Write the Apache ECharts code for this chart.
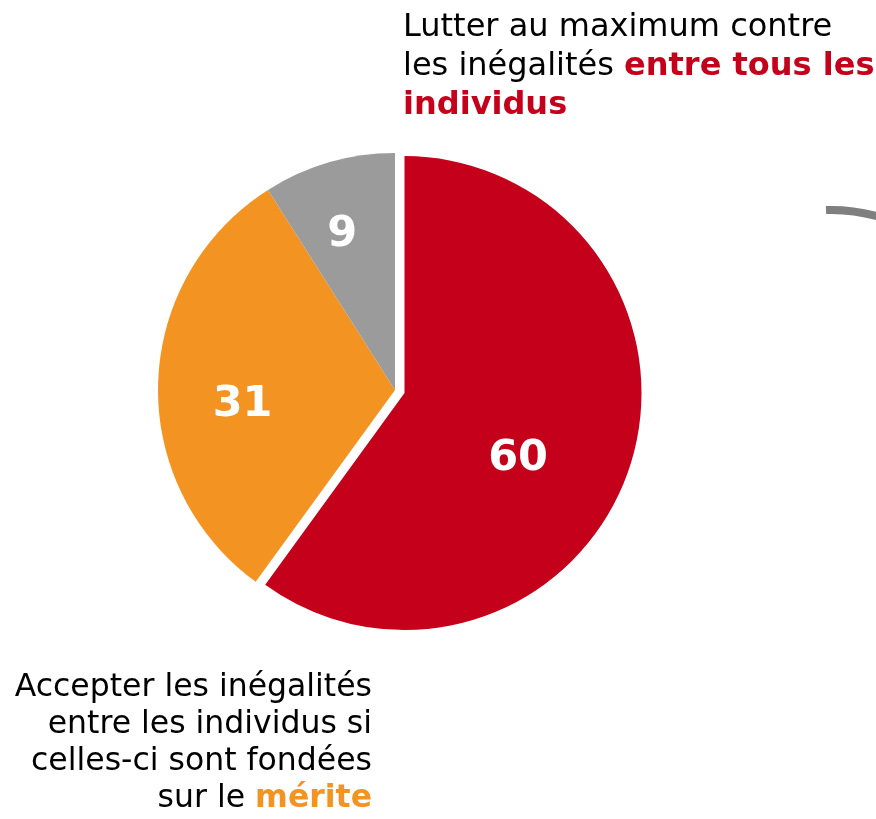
<!DOCTYPE html>
<html>
<head>
<meta charset="utf-8">
<script src="https://cdn.jsdelivr.net/npm/echarts@6/dist/echarts.min.js"></script>
<style>
  html, body { margin: 0; padding: 0; background: #fff; }
  #chart { width: 876px; height: 819px; }
</style>
</head>
<body>
<div id="chart"></div>
<script>
// opinions, in % of respondents
let categories = ['Lutter au maximum contre les inégalités', 'Accepter les inégalités fondées sur le mérite', 'NSP'];
let values = [60, 31, 9];
let colors = ['#C4001A', '#F39322', '#9B9B9B'];

// nudges for the value labels (px), same order as values
let labelShift = [[-2, 28], [-31, 19], [-19, -38]];

let font = '"DejaVu Sans", Verdana, sans-serif';

let chart = echarts.init(document.getElementById('chart'), null, { renderer: 'canvas' });

let options = {
  backgroundColor: '#ffffff',
  animation: false,
  series: [
    {
      type: 'pie',
      center: [395, 390],
      radius: [0, 237],
      startAngle: 90,
      clockwise: true,
      selectedMode: 'single',
      selectedOffset: 10,
      silent: true,
      label: {
        show: true,
        position: 'inside',
        formatter: '{c}',
        color: '#ffffff',
        fontFamily: font,
        fontWeight: 'bold',
        fontSize: 43,
      },
      labelLine: { show: false },
      labelLayout(params) {
        let s = labelShift[params.dataIndex];
        return { dx: s[0], dy: s[1] };
      },
      itemStyle: { borderWidth: 0 },
      data: categories.map((name, i) => ({
        name,
        value: values[i],
        selected: i === 0,
        itemStyle: { color: colors[i] },
      })),
    },
  ],
  graphic: [
    {
      type: 'text',
      left: 403,
      top: 8,
      style: {
        text: '{n|Lutter au maximum contre}\n{n|les inégalités }{r|entre tous les}\n{r|individus}',
        fontFamily: font,
        fontSize: 32,
        lineHeight: 39,
        rich: {
          n: { fontFamily: font, fontSize: 32, lineHeight: 39, fill: '#000000' },
          r: { fontFamily: font, fontSize: 32, lineHeight: 39, fontWeight: 'bold', fill: colors[0] },
        },
      },
    },
    {
      type: 'text',
      right: 876 - 372,
      top: 669,
      style: {
        text: '{n|Accepter les inégalités}\n{n|entre les individus si}\n{n|celles-ci sont fondées}\n{n|sur le }{o|mérite}',
        align: 'right',
        fontFamily: font,
        fontSize: 31.5,
        lineHeight: 37,
        rich: {
          n: { fontFamily: font, fontSize: 31.5, lineHeight: 37, fill: '#000000', align: 'right' },
          o: { fontFamily: font, fontSize: 31.5, lineHeight: 37, fontWeight: 'bold', fill: colors[1], align: 'right' },
        },
      },
    },
    {
      type: 'bezierCurve',
      shape: { x1: 826, y1: 210, cpx1: 852, cpy1: 209, x2: 880, y2: 217 },
      style: { stroke: '#7F7F7F', lineWidth: 8, fill: null },
    },
  ],
};

chart.setOption(options);
</script>
</body>
</html>
